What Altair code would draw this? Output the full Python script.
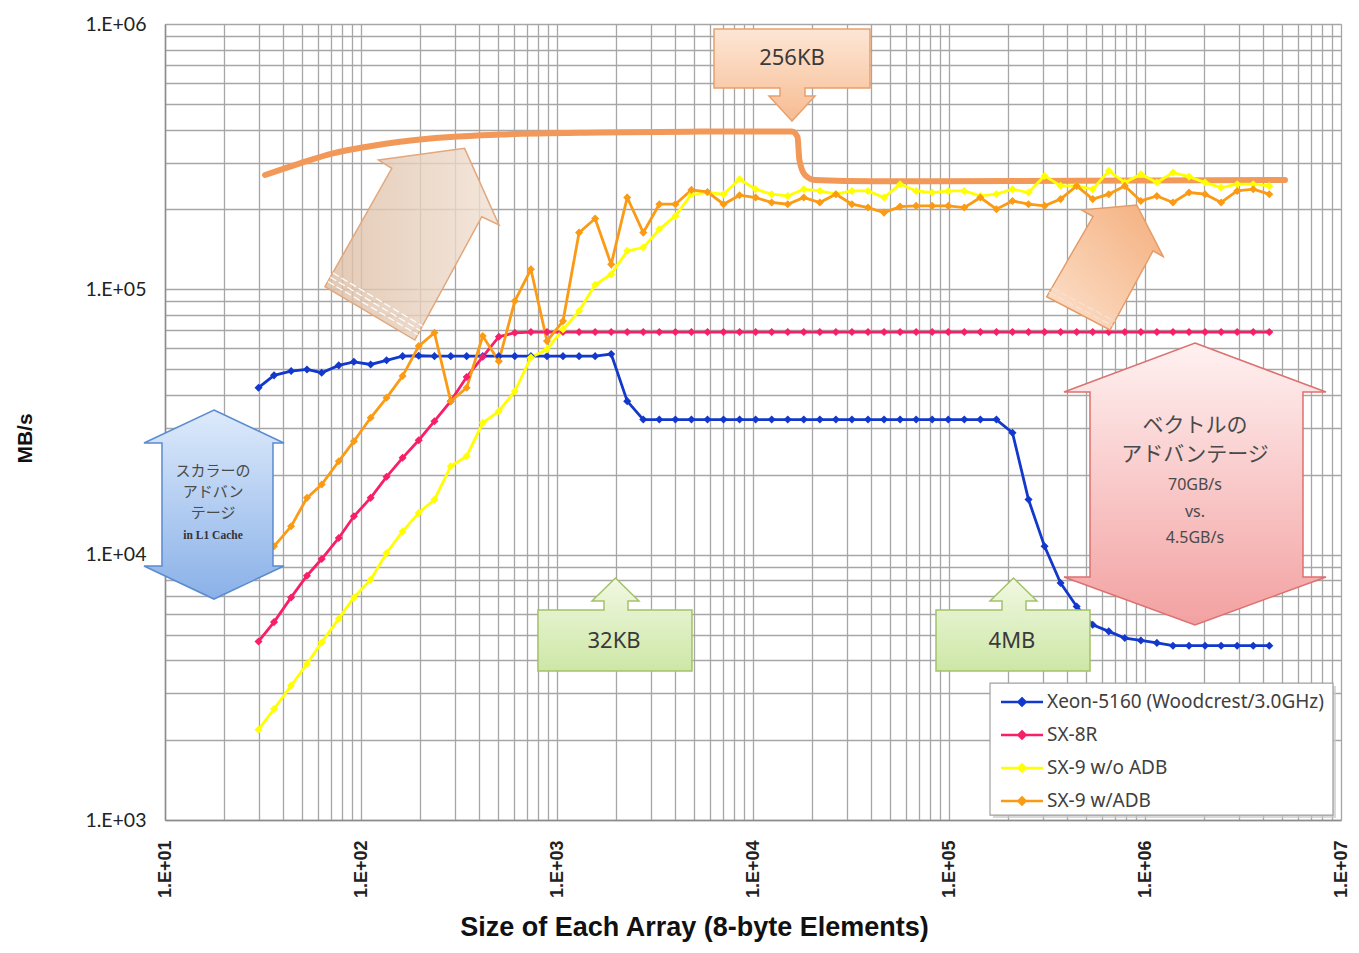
import base64
import altair as alt
import pandas as pd

# ---------------- data ----------------
sizes = [30, 36, 44, 53, 63, 77, 92, 112, 135, 163, 197, 237, 287, 346, 418, 505,
         609, 736, 889, 1073, 1296, 1565, 1890, 2282, 2755, 3327, 4018, 4851, 5858,
         7073, 8541, 10313, 12454, 15038, 18159, 21928, 26478, 31973, 38608, 46621,
         56295, 67978, 82085, 99117, 119680, 144544, 174540, 210760, 254500, 307300,
         371100, 448100, 541100, 653400, 789000, 952800, 1150000, 1389000, 1677000,
         2025000, 2446000, 2953000, 3566000, 4306000]

xeon = [42600, 47400, 49200, 49900, 48500, 51700, 53300, 52100, 54000, 56000, 56200,
        56000, 56000, 56000, 56000, 56000, 56000, 56000, 56000, 56000, 56000, 56000,
        57000, 37900,
        32300, 32300, 32300, 32300, 32300, 32300, 32300, 32300, 32300, 32300, 32300, 32300,
        32300, 32300, 32300, 32300, 32300, 32300, 32300, 32300, 32300, 32300, 32300,
        28800, 16130, 10750, 7820, 6380, 5440, 5140, 4850, 4750, 4650,
        4540, 4540, 4540, 4540, 4540, 4540, 4540]

sx8r = [4710, 5570, 6900, 8330, 9630, 11560, 13950, 16370, 19650, 23170, 27000, 31840,
        37900, 46700, 55700, 66300, 68600,
        69000, 69000, 69000, 69000, 69000, 69000, 69000, 69000, 69000, 69000, 69000, 69000,
        69000, 69000, 69000, 69000, 69000, 69000, 69000, 69000, 69000, 69000, 69000, 69000,
        69000, 69000, 69000, 69000, 69000, 69000, 69000, 69000, 69000, 69000, 69000, 69000,
        69000, 69000, 69000, 69000, 69000, 69000, 69000, 69000, 69000, 69000, 69000]

sx9_no_adb = [2190, 2620, 3210, 3870, 4670, 5740, 6900, 8050, 10150, 12240, 14370, 16130,
              21550, 23500, 31400, 34750, 41300, 55300, 59400, 70600, 82800, 104000, 114000,
              139600, 143700, 168400, 189100, 228300, 231600, 228300, 260000, 238500, 228300,
              224900, 238500, 234900, 228300, 234900, 234900, 221800, 249000, 234900, 231600,
              234900, 234900, 224900, 228300, 238500, 231600, 267600, 245400, 245400, 238500,
              279600, 252600, 271600, 252600, 275500, 266000, 252600, 241900, 249000, 249000,
              245400]

sx9_adb = [None, 10750, 12790, 16370, 18370, 22500, 26770, 32800, 39000, 47100, 61100, 68650,
           37900, 42560, 66650, 53620, 90300, 119000, 63800, 75900, 163600, 184800, 124200,
           221800, 163600, 209300, 209300, 237000, 232900, 209300, 226300, 221800, 212500,
           209300, 221800, 212500, 228300, 209300, 203300, 194600, 205000, 206300, 206300,
           206300, 203300, 221800, 200400, 215400, 209300, 206300, 218800, 245400, 218800,
           228300, 245400, 215400, 224900, 212500, 231600, 228300, 212500, 234900, 238500,
           228300]

series_names = ["Xeon-5160 (Woodcrest/3.0GHz)", "SX-8R", "SX-9 w/o ADB", "SX-9 w/ADB"]
series_colors = ["#1238CC", "#F81E6A", "#FFFF00", "#FB9A14"]

# thick orange "peak" curve
peak_x = [32.4, 48.8, 72.0, 107.3, 158.1, 284.5, 512, 1656, 5365, 15810, 16870, 17250,
          18420, 20640, 41400, 5180000]
peak_y = [269700, 298500, 325500, 344700, 359900, 375100, 383300, 390000, 393000, 393000,
          375100, 307300, 269700, 258200, 255400, 258200]

# ---------------- tables ----------------
rows = []
for name, vals in zip(series_names, [xeon, sx8r, sx9_no_adb, sx9_adb]):
    for s, v in zip(sizes, vals):
        if v is not None:
            rows.append({"series": name, "size": s, "mbps": v})
df = pd.DataFrame(rows)
peak_df = pd.DataFrame({"size": peak_x, "mbps": peak_y})

xscale = alt.Scale(type="log", domain=[10, 1e7], nice=False)
yscale = alt.Scale(type="log", domain=[1000, 1e6], nice=False)

x_grid = [m * 10 ** k for k in range(1, 7) for m in range(1, 10)] + [10 ** 7]
y_grid = [m * 10 ** k for k in range(3, 6) for m in range(1, 10)] + [10 ** 6]
is_major = "abs(log(datum.value)/LN10 - round(log(datum.value)/LN10)) < 1e-6"
lab = "('1.E+0' + round(log(datum.value)/LN10))"

GRID = "#A6A6A6"
xaxis = alt.Axis(values=x_grid, labelExpr=f"{is_major} ? {lab} : ''", labelAngle=270,
                 labelPadding=20, labelOverlap=False, labelFont="Liberation Sans",
                 labelFontWeight="bold", labelFontSize=18, labelColor="#222222",
                 ticks=False, grid=True, gridColor=GRID, gridWidth=1.3,
                 domainColor="#8C8C8C", domainWidth=1.5,
                 title="Size of Each Array (8-byte Elements)", titleFont="Liberation Sans",
                 titleFontSize=27, titleFontWeight="bold", titleColor="#111111",
                 titleX=529, titleY=115, titleAlign="center", titleBaseline="alphabetic")
yaxis = alt.Axis(values=y_grid, labelExpr=f"{is_major} ? {lab} : ''", labelPadding=19,
                 labelOverlap=False, labelFont="Lato", labelFontSize=19.5, labelColor="#222222",
                 ticks=False, grid=True, gridColor=GRID, gridWidth=1.3,
                 domainColor="#8C8C8C", domainWidth=1.5,
                 title="MB/s", titleFont="Liberation Sans", titleFontSize=21,
                 titleFontWeight="bold", titleColor="#111111", titleAngle=270,
                 titleX=-140, titleY=414, titleAlign="center", titleBaseline="middle")


def X(field="size"):
    return alt.X(f"{field}:Q", scale=xscale, axis=xaxis)


def Y(field="mbps"):
    return alt.Y(f"{field}:Q", scale=yscale, axis=yaxis)


legend = alt.Legend(title=None, orient="none", legendX=845, legendY=666, padding=0,
                    symbolType="M-2,0H2M0,-0.34L0.34,0L0,0.34L-0.34,0Z", symbolSize=441,
                    symbolStrokeWidth=2.5, labelFont="Noto Sans", labelFontSize=19,
                    labelColor="#404040", labelOffset=13, rowPadding=11, labelLimit=500)

peak = alt.Chart(peak_df).mark_line(color="#F2995A", strokeWidth=6, interpolate="monotone",
                                    strokeCap="round").encode(x=X(), y=Y())

lines = alt.Chart(df).mark_line(
    strokeWidth=2.8,
    point=alt.OverlayMarkDef(shape="diamond", size=65, filled=True),
).encode(
    x=X(), y=Y(),
    color=alt.Color("series:N", scale=alt.Scale(domain=series_names, range=series_colors),
                    legend=legend),
)

# ---------------- annotations ----------------
def svg_uri(w, h, defs, body):
    s = (f'<svg xmlns="http://www.w3.org/2000/svg" width="{w}" height="{h}" '
         f'viewBox="0 0 {w} {h}" preserveAspectRatio="none"><defs>{defs}</defs>{body}</svg>')
    return "data:image/svg+xml;base64," + base64.b64encode(s.encode("utf-8")).decode()


def grad(gid, c1, c2, x2=0, y2=1, x1=0, y1=0):
    return (f'<linearGradient id="{gid}" x1="{x1}" y1="{y1}" x2="{x2}" y2="{y2}">'
            f'<stop offset="0" stop-color="{c1}"/><stop offset="1" stop-color="{c2}"/>'
            f'</linearGradient>')


def stripes(tl, tr, u, ds, color):
    out = ""
    for d in ds:
        out += (f'<line x1="{tl[0]+d*u[0]:.1f}" y1="{tl[1]+d*u[1]:.1f}" '
                f'x2="{tr[0]+d*u[0]:.1f}" y2="{tr[1]+d*u[1]:.1f}" stroke="{color}" '
                f'stroke-width="1.2" stroke-dasharray="7 3"/>')
    return out


shapes = []
# 256KB down-arrow callout
shapes.append(dict(x=15810, y=642300, w=158, h=94, url=svg_uri(
    158, 94, grad("g", "#FDE6D5", "#F7BC92"),
    '<path d="M1,1 H157 V60 H92 V68 H102 L79,93 L56,68 H67 V60 H1 Z" fill="url(#g)" '
    'stroke="#E7A06C" stroke-width="1.5"/>')))
# 32KB and 4MB up-arrow callouts
green_path = ('<path d="M1,33 H67 V24 H55 L78.5,1 L102,24 H91 V33 H155 V94 H1 Z" '
              'fill="url(#g)" stroke="#A3C268" stroke-width="1.5"/>')
green_svg = svg_uri(156, 95, grad("g", "#F1F8E2", "#CDE7A6"), green_path)
shapes.append(dict(x=1976, y=5452, w=156, h=95, url=green_svg))
shapes.append(dict(x=212100, y=5452, w=156, h=95, url=green_svg))
# red double arrow
shapes.append(dict(x=1799000, y=18460, w=264, h=284, url=svg_uri(
    264, 284, grad("g", "#FFF1F1", "#F3A1A1"),
    '<path d="M132,1 L263,50 H240 V235 H263 L132,283 L1,235 H27 V50 H1 Z" fill="url(#g)" '
    'stroke="#DD7070" stroke-width="1.5"/>')))
# blue double arrow
shapes.append(dict(x=17.78, y=15448, w=142, h=191, url=svg_uri(
    142, 191, grad("g", "#DDEAFB", "#8AB1E8"),
    '<path d="M71,1 L141,34 H130 V157 H141 L71,190 L1,157 H19 V34 H1 Z" fill="url(#g)" '
    'stroke="#5B8BD0" stroke-width="1.5"/>')))
# left tan diagonal arrow
left_body = ('<path d="M140.6,1.3 L175,78 L157.8,69.7 L90.8,193 L0.9,139.7 L67.8,21.3 '
             'L54.5,13 Z" fill="url(#g)" fill-opacity="0.8" stroke="#E2A77C" '
             'stroke-width="1.5"/>'
             + stripes((0.9, 139.7), (90.8, 193), (0.492, -0.8706), [6, 11, 16], "#FFFFFF"))
shapes.append(dict(x=183.1, y=147500, w=177, h=195, url=svg_uri(
    177, 195, grad("g", "#DCBCA2", "#F1E1D3", x2=1, y2=0), left_body)))
# right peach diagonal arrow
right_body = ('<path d="M91.2,1.5 L117.8,53.2 L107.5,47.3 L64.5,126.5 L1.2,93.2 L47.5,13 '
              'L36.2,6.5 Z" fill="url(#g)" stroke="#E49C68" stroke-width="1.5"/>'
              + stripes((1.2, 93.2), (64.5, 126.5), (0.5, -0.866), [5, 10], "#F8E2D2"))
shapes.append(dict(x=625200, y=120840, w=119, h=128, url=svg_uri(
    119, 128, grad("g", "#FCE2CE", "#F4AE7C", x1=0, y1=1, x2=1, y2=0), right_body)))

annot_layers = []
for s in shapes:
    annot_layers.append(
        alt.Chart(pd.DataFrame([{"size": s["x"], "mbps": s["y"], "url": s["url"]}]))
        .mark_image(width=s["w"], height=s["h"], aspect=False)
        .encode(x=X(), y=Y(), url="url:N"))

# legend frame (drawn behind the library legend)
box_df = pd.DataFrame([{"size": 161900, "size2": 9100000, "mbps": 3281, "mbps2": 1044}])
box_shadow = alt.Chart(box_df).mark_rect(fill="#C8C8C8", xOffset=3, x2Offset=3, yOffset=3,
                                         y2Offset=3, opacity=0.7).encode(
    x=X(), x2="size2:Q", y=Y(), y2="mbps2:Q")
box = alt.Chart(box_df).mark_rect(fill="white", stroke="#A0A0A0", strokeWidth=1.2).encode(
    x=X(), x2="size2:Q", y=Y(), y2="mbps2:Q")

# annotation texts
callout_txt = pd.DataFrame([
    {"size": 15810, "mbps": 744500, "t": "256KB"},
    {"size": 1954, "mbps": 4725, "t": "32KB"},
    {"size": 209600, "mbps": 4725, "t": "4MB"},
])
jp_red = pd.DataFrame([
    {"size": 1799000, "mbps": 30500, "t": "ベクトルの"},
    {"size": 1799000, "mbps": 23800, "t": "アドバンテージ"},
])
jp_blue = pd.DataFrame([
    {"size": 17.58, "mbps": 20660, "t": "スカラーの"},
    {"size": 17.58, "mbps": 17220, "t": "アドバン"},
    {"size": 17.58, "mbps": 14350, "t": "テージ"},
])
num_txt = pd.DataFrame([
    {"size": 1799000, "mbps": 18290, "t": "70GB/s"},
    {"size": 1799000, "mbps": 14470, "t": "vs."},
    {"size": 1799000, "mbps": 11550, "t": "4.5GB/s"},
])
l1_txt = pd.DataFrame([{"size": 17.58, "mbps": 11750, "t": "in L1 Cache"}])


def text_layer(d, **kw):
    return alt.Chart(d).mark_text(align="center", baseline="middle", **kw).encode(
        x=X(), y=Y(), text="t:N")


texts = [
    text_layer(callout_txt, font="Noto Sans", fontSize=22, color="#3A3A3A"),
    text_layer(jp_red, font="Noto Sans CJK JP", fontSize=21, color="#4A4A4A"),
    text_layer(jp_blue, font="Noto Sans CJK JP", fontSize=15, color="#4A4A4A"),
    text_layer(num_txt, font="Noto Sans", fontSize=16, color="#4A4A4A"),
    text_layer(l1_txt, font="Liberation Serif", fontSize=11.5, fontWeight="bold",
               color="#333333"),
]

chart = alt.layer(peak, lines, box_shadow, box, *annot_layers, *texts).properties(
    width=1176, height=796,
    autosize=alt.AutoSizeParams(type="none"),
    padding={"left": 157, "top": 16, "right": 10, "bottom": 126},
).configure_view(stroke=GRID).configure(background="white")

chart.save("out.html", embed_options={"renderer": "svg", "actions": False})
